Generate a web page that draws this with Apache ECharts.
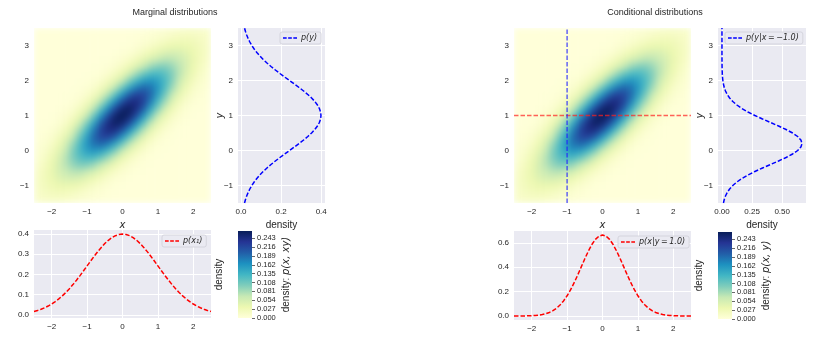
<!DOCTYPE html>
<html>
<head>
<meta charset="utf-8">
<script src="https://cdn.jsdelivr.net/npm/echarts@6/dist/echarts.min.js"></script>
<style>
  html, body { margin: 0; padding: 0; background: #ffffff; }
  #wrap { position: relative; width: 828px; height: 341px; }
  #heat, #chart { position: absolute; left: 0; top: 0; width: 828px; height: 341px; }
  /* the density images are shown smoothed, like an interpolated image, and clipped to their plot areas */
  #heat { filter: blur(3px); clip-path: path('M34 28H211V203H34Z M514 28H691V203H514Z'); }
</style>
</head>
<body>
<div id="wrap">
  <div id="heat"></div>
  <div id="chart"></div>
</div>
<script>
// ---- joint density p(x, y) on a 25 x 25 grid of cell centres ----
const xCenters = [-2.4,-2.2,-2.0,-1.8,-1.6,-1.4,-1.2,-1.0,-0.8,-0.6,-0.4,-0.2,0.0,0.2,0.4,0.6,0.8,1.0,1.2,1.4,1.6,1.8,2.0,2.2,2.4];
const yCenters = [-1.4,-1.2,-1.0,-0.8,-0.6,-0.4,-0.2,0.0,0.2,0.4,0.6,0.8,1.0,1.2,1.4,1.6,1.8,2.0,2.2,2.4,2.6,2.8,3.0,3.2,3.4];
// one row per y centre (bottom to top), one column per x centre (left to right)
const jointDensity = [
  [.011,.013,.015,.015,.013,.010,.007,.005,.003,.001,.001,0,0,0,0,0,0,0,0,0,0,0,0,0,0],
  [.013,.018,.022,.024,.023,.020,.015,.011,.007,.004,.002,.001,0,0,0,0,0,0,0,0,0,0,0,0,0],
  [.015,.022,.029,.034,.036,.034,.029,.022,.015,.009,.005,.002,.001,0,0,0,0,0,0,0,0,0,0,0,0],
  [.015,.024,.034,.044,.051,.052,.048,.040,.030,.020,.012,.006,.003,.001,0,0,0,0,0,0,0,0,0,0,0],
  [.013,.023,.036,.051,.064,.072,.073,.066,.054,.039,.025,.015,.008,.004,.001,.001,0,0,0,0,0,0,0,0,0],
  [.010,.020,.034,.052,.072,.089,.099,.098,.086,.068,.048,.031,.017,.009,.004,.002,.001,0,0,0,0,0,0,0,0],
  [.007,.015,.029,.048,.073,.099,.119,.129,.125,.108,.084,.058,.036,.020,.010,.004,.002,.001,0,0,0,0,0,0,0],
  [.005,.011,.022,.040,.066,.098,.129,.152,.161,.152,.129,.098,.066,.040,.022,.011,.005,.002,.001,0,0,0,0,0,0],
  [.003,.007,.015,.030,.054,.086,.125,.161,.186,.192,.178,.147,.109,.072,.043,.023,.011,.005,.002,.001,0,0,0,0,0],
  [.001,.004,.009,.020,.039,.068,.108,.152,.192,.217,.220,.199,.161,.117,.076,.044,.023,.011,.004,.002,.001,0,0,0,0],
  [.001,.002,.005,.012,.025,.048,.084,.129,.178,.220,.243,.240,.212,.168,.119,.076,.043,.022,.010,.004,.001,0,0,0,0],
  [0,.001,.002,.006,.015,.031,.058,.098,.147,.199,.240,.259,.251,.217,.168,.117,.072,.040,.020,.009,.004,.001,0,0,0],
  [0,0,.001,.003,.008,.017,.036,.066,.109,.161,.212,.251,.265,.251,.212,.161,.109,.066,.036,.017,.008,.003,.001,0,0],
  [0,0,0,.001,.004,.009,.020,.040,.072,.117,.168,.217,.251,.259,.240,.199,.147,.098,.058,.031,.015,.006,.002,.001,0],
  [0,0,0,0,.001,.004,.010,.022,.043,.076,.119,.168,.212,.240,.243,.220,.178,.129,.084,.048,.025,.012,.005,.002,.001],
  [0,0,0,0,.001,.002,.004,.011,.023,.044,.076,.117,.161,.199,.220,.217,.192,.152,.108,.068,.039,.020,.009,.004,.001],
  [0,0,0,0,0,.001,.002,.005,.011,.023,.043,.072,.109,.147,.178,.192,.186,.161,.125,.086,.054,.030,.015,.007,.003],
  [0,0,0,0,0,0,.001,.002,.005,.011,.022,.040,.066,.098,.129,.152,.161,.152,.129,.098,.066,.040,.022,.011,.005],
  [0,0,0,0,0,0,0,.001,.002,.004,.010,.020,.036,.058,.084,.108,.125,.129,.119,.099,.073,.048,.029,.015,.007],
  [0,0,0,0,0,0,0,0,.001,.002,.004,.009,.017,.031,.048,.068,.086,.098,.099,.089,.072,.052,.034,.020,.010],
  [0,0,0,0,0,0,0,0,0,.001,.001,.004,.008,.015,.025,.039,.054,.066,.073,.072,.064,.051,.036,.023,.013],
  [0,0,0,0,0,0,0,0,0,0,0,.001,.003,.006,.012,.020,.030,.040,.048,.052,.051,.044,.034,.024,.015],
  [0,0,0,0,0,0,0,0,0,0,0,0,.001,.002,.005,.009,.015,.022,.029,.034,.036,.034,.029,.022,.015],
  [0,0,0,0,0,0,0,0,0,0,0,0,0,.001,.002,.004,.007,.011,.015,.020,.023,.024,.022,.018,.013],
  [0,0,0,0,0,0,0,0,0,0,0,0,0,0,.001,.001,.003,.005,.007,.010,.013,.015,.015,.013,.011]
];

// ---- 1-D densities ----
const xs = [-2.5,-2.4,-2.3,-2.2,-2.1,-2.0,-1.9,-1.8,-1.7,-1.6,-1.5,-1.4,-1.3,-1.2,-1.1,-1.0,-0.9,-0.8,-0.7,-0.6,-0.5,-0.4,-0.3,-0.2,-0.1,0.0,
            0.1,0.2,0.3,0.4,0.5,0.6,0.7,0.8,0.9,1.0,1.1,1.2,1.3,1.4,1.5,1.6,1.7,1.8,1.9,2.0,2.1,2.2,2.3,2.4,2.5];
const ys = [-1.5,-1.4,-1.3,-1.2,-1.1,-1.0,-0.9,-0.8,-0.7,-0.6,-0.5,-0.4,-0.3,-0.2,-0.1,0.0,0.1,0.2,0.3,0.4,0.5,0.6,0.7,0.8,0.9,1.0,
            1.1,1.2,1.3,1.4,1.5,1.6,1.7,1.8,1.9,2.0,2.1,2.2,2.3,2.4,2.5,2.6,2.7,2.8,2.9,3.0,3.1,3.2,3.3,3.4,3.5];
// marginal p(x1) over xs
const pX1 = [.0175,.0224,.0283,.0355,.0440,.0540,.0656,.0790,.0940,.1109,.1295,.1497,.1714,.1942,.2179,.2420,.2661,.2897,.3123,.3332,.3521,.3683,.3814,.3910,.3970,.3989,
             .3970,.3910,.3814,.3683,.3521,.3332,.3123,.2897,.2661,.2420,.2179,.1942,.1714,.1497,.1295,.1109,.0940,.0790,.0656,.0540,.0440,.0355,.0283,.0224,.0175];
// marginal p(y) over ys
const pY = [.0175,.0224,.0283,.0355,.0440,.0540,.0656,.0790,.0940,.1109,.1295,.1497,.1714,.1942,.2179,.2420,.2661,.2897,.3123,.3332,.3521,.3683,.3814,.3910,.3970,.3989,
            .3970,.3910,.3814,.3683,.3521,.3332,.3123,.2897,.2661,.2420,.2179,.1942,.1714,.1497,.1295,.1109,.0940,.0790,.0656,.0540,.0440,.0355,.0283,.0224,.0175];
// conditional p(x | y = 1.0) over xs
const pXgivenY = [.0001,.0002,.0004,.0008,.0015,.0026,.0044,.0074,.0120,.0190,.0292,.0437,.0636,.0900,.1239,.1658,.2159,.2733,.3366,.4033,.4698,.5324,.5868,.6290,.6557,.6649,
                  .6557,.6290,.5868,.5324,.4698,.4033,.3366,.2733,.2159,.1658,.1239,.0900,.0636,.0437,.0292,.0190,.0120,.0074,.0044,.0026,.0015,.0008,.0004,.0002,.0001];
// conditional p(y | x = -1.0) over ys
const pYgivenX = [.0120,.0190,.0292,.0437,.0636,.0900,.1239,.1658,.2159,.2733,.3366,.4033,.4698,.5324,.5868,.6290,.6557,.6649,
                  .6557,.6290,.5868,.5324,.4698,.4033,.3366,.2733,.2159,.1658,.1239,.0900,.0636,.0437,.0292,.0190,.0120,.0074,.0044,.0026,.0015,.0008,.0004,.0002,.0001,
                  0,0,0,0,0,0,0,0];
const condX = -1.0;
const condY = 1.0;

// ---- axis ranges and tick labels ----
const xLim = [-2.5, 2.5];
const yLim = [-1.5, 3.5];
const margDensLim = [-0.015, 0.419];
const condDensLim = [-0.033, 0.698];
const densityMax = 0.265;
const xTicks = [-2, -1, 0, 1, 2];
const yTicks = [-1, 0, 1, 2, 3];
const margSideTicks = [0, 0.2, 0.4];
const margBottomTicks = [0, 0.1, 0.2, 0.3, 0.4];
const condSideTicks = [0, 0.25, 0.5];
const condBottomTicks = [0, 0.2, 0.4, 0.6];
const cbarTicks = [0, 0.027, 0.054, 0.081, 0.108, 0.135, 0.162, 0.189, 0.216, 0.243];

const YLGNBU = ['#ffffd9','#edf8b1','#c7e9b4','#7fcdbb','#41b6c4','#1d91c0','#225ea8','#253494','#081d58'];
const FONT = '"Liberation Sans", Arial, sans-serif';
const MATH = '"DejaVu Sans", sans-serif';
const TXT = '#262626';
const PANEL_BG = '#eaeaf2';

// plot rectangles shared by both chart layers
const HEAT_L = { left: 34, top: 28, width: 177, height: 175 };
const HEAT_R = { left: 514, top: 28, width: 177, height: 175 };
const CBAR_L = { left: 238, top: 231, width: 14, height: 87 };
const CBAR_R = { left: 718, top: 232, width: 14, height: 87 };

function fmt(decimals) {
  return v => (v < -1e-9 ? '\u2212' : '') + Math.abs(v).toFixed(decimals);
}

// ================= layer 1: the two joint-density images =================
const heatData = [];
jointDensity.forEach((row, j) => row.forEach((v, i) => heatData.push([i, j, v])));

const heatChart = echarts.init(document.getElementById('heat'), null, { renderer: 'canvas' });
heatChart.setOption({
  animation: false,
  grid: [Object.assign({}, HEAT_L), Object.assign({}, HEAT_R)],
  xAxis: [0, 1].map(g => ({ type: 'category', gridIndex: g, data: xCenters, show: false })),
  yAxis: [0, 1].map(g => ({ type: 'category', gridIndex: g, data: yCenters, show: false })),
  visualMap: [0, 1].map(s => ({
    type: 'continuous', show: false, seriesIndex: s, min: 0, max: densityMax, inRange: { color: YLGNBU }
  })),
  series: [0, 1].map(g => ({
    type: 'heatmap', xAxisIndex: g, yAxisIndex: g, data: heatData, silent: true, progressive: 0,
    emphasis: { disabled: true }
  }))
});

// ================= layer 2: axes, curves, legends, colour bars =================
function valueAxis(gridIndex, lim, ticks, decimals, extra) {
  return Object.assign({
    type: 'value', gridIndex, min: lim[0], max: lim[1],
    axisLine: { show: false },
    axisTick: { show: false, customValues: ticks },
    axisLabel: { customValues: ticks, formatter: fmt(decimals), fontSize: 8, color: TXT, fontFamily: FONT, margin: 5 },
    splitLine: { show: true, lineStyle: { color: '#ffffff', width: 1 } },
    nameMoveOverlap: false
  }, extra || {});
}
function nameStyle(italic) {
  return { fontSize: 10, color: TXT, fontFamily: italic ? MATH : FONT, fontStyle: italic ? 'italic' : 'normal' };
}

const DASH_ICON = 'path://M0,0h5v2h-5zM7,0h5v2h-5zM14,0h5v2h-5z';
function legendBox(name, left, top) {
  return {
    data: [name], left, top, orient: 'horizontal', selectedMode: false,
    padding: [2, 4, 2, 3], itemWidth: 14, itemHeight: 3, itemGap: 0,
    icon: DASH_ICON,
    backgroundColor: PANEL_BG, borderColor: '#cfcfd8', borderWidth: 0.8, borderRadius: 2,
    textStyle: { fontSize: 8, color: TXT, fontFamily: MATH, fontStyle: 'italic', padding: [0, 0, 0, -1] }
  };
}

const panel = { show: true, backgroundColor: PANEL_BG, borderWidth: 0 };
const grids = [
  Object.assign({}, HEAT_L),                                           // 0 joint density axes
  Object.assign({ left: 238, top: 28, width: 87, height: 175 }, panel),  // 1 side
  Object.assign({ left: 34, top: 230, width: 177, height: 88 }, panel),  // 2 bottom
  Object.assign({}, CBAR_L),                                           // 3 colour bar
  Object.assign({}, HEAT_R),                                           // 4 joint density axes
  Object.assign({ left: 718, top: 28, width: 88, height: 175 }, panel),  // 5 side
  Object.assign({ left: 514, top: 231, width: 177, height: 89 }, panel), // 6 bottom
  Object.assign({}, CBAR_R)                                            // 7 colour bar
];

// invisible partner axis for the colour-bar grids
const hidden = gi => ({ type: 'category', gridIndex: gi, data: [''], show: false });
const xName = { name: 'x', nameLocation: 'middle', nameGap: 17, nameTextStyle: nameStyle(true) };
const densName = { name: 'density', nameLocation: 'middle', nameGap: 17, nameTextStyle: nameStyle(false) };
const yName = { name: 'y', nameLocation: 'middle', nameGap: 13, nameRotate: 90, nameTextStyle: nameStyle(true) };

const xAxes = [
  valueAxis(0, xLim, xTicks, 0, Object.assign({ splitLine: { show: false } }, xName)),
  valueAxis(1, margDensLim, margSideTicks, 1, densName),
  valueAxis(2, xLim, xTicks, 0),
  hidden(3),
  valueAxis(4, xLim, xTicks, 0, Object.assign({ splitLine: { show: false } }, xName)),
  valueAxis(5, condDensLim, condSideTicks, 2, densName),
  valueAxis(6, xLim, xTicks, 0),
  hidden(7)
];

function cbarAxis(gi, label) {
  return {
    type: 'value', gridIndex: gi, min: 0, max: densityMax, position: 'right',
    axisLine: { show: false },
    axisTick: { show: true, inside: false, length: 3, customValues: cbarTicks, lineStyle: { color: '#444', width: 0.8 } },
    axisLabel: { customValues: cbarTicks, formatter: fmt(3), fontSize: 7.5, color: TXT, fontFamily: FONT, margin: 5 },
    splitLine: { show: false },
    nameMoveOverlap: false,
    name: label, nameLocation: 'middle', nameGap: 29, nameRotate: 90,
    nameTextStyle: { fontSize: 10, color: TXT, fontFamily: FONT, rich: { m: { fontSize: 10, color: TXT, fontFamily: MATH, fontStyle: 'italic' } } }
  };
}

const yAxes = [
  valueAxis(0, yLim, yTicks, 0, { splitLine: { show: false } }),
  valueAxis(1, yLim, yTicks, 0, yName),
  valueAxis(2, margDensLim, margBottomTicks, 1),
  cbarAxis(3, 'density: {m|p(x, xy)}'),
  valueAxis(4, yLim, yTicks, 0, { splitLine: { show: false } }),
  valueAxis(5, yLim, yTicks, 0, yName),
  valueAxis(6, condDensLim, condBottomTicks, 1),
  cbarAxis(7, 'density: {m|p(x, y)}')
];

const dashed = (color, opacity) => ({ color, width: 1.5, type: [4.5, 2], opacity: opacity == null ? 1 : opacity });
function curve(name, xi, yi, color, points) {
  return {
    type: 'line', name, xAxisIndex: xi, yAxisIndex: yi, data: points,
    symbol: 'none', showSymbol: false, smooth: false, silent: true,
    itemStyle: { color }, lineStyle: dashed(color), z: 5
  };
}

const nameY = 'p(y)';
const nameX1 = 'p(x\u2081)';
const nameYgX = 'p(y|x\u2009=\u2009\u2212' + Math.abs(condX).toFixed(1) + ')';
const nameXgY = 'p(x|y\u2009=\u2009' + condY.toFixed(1) + ')';

const series = [
  curve(nameY, 1, 1, '#0000ff', pY.map((d, i) => [d, ys[i]])),
  curve(nameX1, 2, 2, '#ff0000', xs.map((x, i) => [x, pX1[i]])),
  curve(nameYgX, 5, 5, '#0000ff', pYgivenX.map((d, i) => [d, ys[i]])),
  curve(nameXgY, 6, 6, '#ff0000', xs.map((x, i) => [x, pXgivenY[i]])),
  // conditioning lines across the joint density
  { type: 'line', xAxisIndex: 4, yAxisIndex: 4, data: [[xLim[0], condY], [xLim[1], condY]], symbol: 'none', silent: true,
    lineStyle: dashed('#ff2020', 0.7), z: 6 },
  { type: 'line', xAxisIndex: 4, yAxisIndex: 4, data: [[condX, yLim[0]], [condX, yLim[1]]], symbol: 'none', silent: true,
    lineStyle: dashed('#2020ff', 0.7), z: 6 }
];

// colour bar: the YlGnBu ramp from 0 (bottom) to densityMax (top), filling the colour-bar grid
function colorbarRect(rect) {
  return {
    type: 'rect', silent: true, z: 1,
    shape: { x: rect.left, y: rect.top, width: rect.width, height: rect.height },
    style: {
      fill: new echarts.graphic.LinearGradient(0, 1, 0, 0,
        YLGNBU.map((c, i) => ({ offset: i / (YLGNBU.length - 1), color: c })))
    }
  };
}
// rotated "density" captions to the left of each colour bar
function sideCaption(rect) {
  return {
    type: 'text', rotation: Math.PI / 2,
    x: rect.left - 19, y: rect.top + rect.height / 2,
    style: { text: 'density', fontSize: 10, fill: TXT, fontFamily: FONT, align: 'center', verticalAlign: 'middle' },
    silent: true
  };
}

const titleStyle = { fontSize: 9, fontWeight: 'normal', color: TXT, fontFamily: FONT };

const chart = echarts.init(document.getElementById('chart'), null, { renderer: 'canvas' });
chart.setOption({
  animation: false,
  backgroundColor: 'transparent',
  title: [
    { text: 'Marginal distributions', left: 175, top: 8, textAlign: 'center', padding: 0, textStyle: titleStyle },
    { text: 'Conditional distributions', left: 655, top: 8, textAlign: 'center', padding: 0, textStyle: titleStyle }
  ],
  legend: [
    legendBox(nameY, 280, 32),
    legendBox(nameX1, 162, 235),
    legendBox(nameYgX, 725, 32),
    legendBox(nameXgY, 618, 236)
  ],
  grid: grids,
  xAxis: xAxes,
  yAxis: yAxes,
  graphic: [colorbarRect(CBAR_L), colorbarRect(CBAR_R), sideCaption(CBAR_L), sideCaption(CBAR_R)],
  series
});
</script>
</body>
</html>
